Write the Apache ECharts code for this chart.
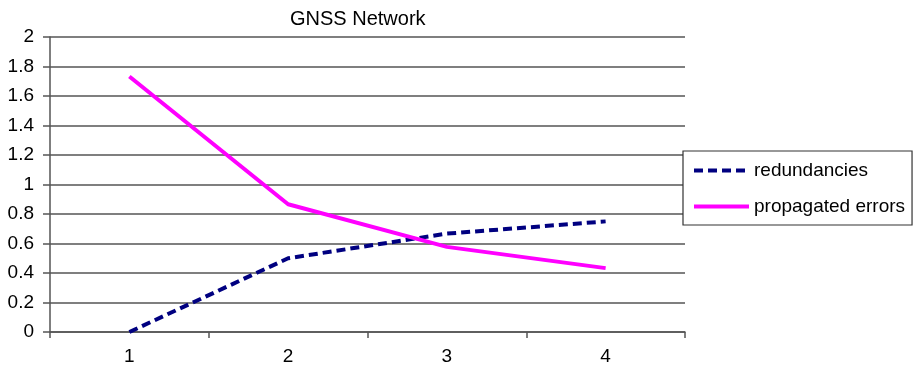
<!DOCTYPE html>
<html>
<head>
<meta charset="utf-8">
<script src="https://cdn.jsdelivr.net/npm/echarts@6/dist/echarts.min.js"></script>
<style>html,body{margin:0;padding:0;background:#fff}#c{width:914px;height:366px}</style>
</head>
<body>
<div id="c"></div>
<script>
var categories = ['1', '2', '3', '4'];
var redundancies = [0, 0.5, 0.667, 0.75];
var propagatedErrors = [1.732, 0.866, 0.577, 0.433];
var yTicks = [0, 0.2, 0.4, 0.6, 0.8, 1, 1.2, 1.4, 1.6, 1.8, 2];

var chart = echarts.init(document.getElementById('c'), null, {renderer: 'canvas'});
var font = 'Liberation Sans, Arial, sans-serif';
chart.setOption({
  animation: false,
  backgroundColor: '#fff',
  title: {
    text: 'GNSS Network',
    left: 285, top: 4,
    textStyle: {fontFamily: font, fontSize: 20, fontWeight: 'normal', color: '#000'}
  },
  legend: {
    orient: 'vertical',
    left: 683, top: 151,
    padding: [10, 7, 9, 9],
    itemGap: 17,
    itemWidth: 55, itemHeight: 14,
    borderColor: '#333', borderWidth: 1.2, borderRadius: 0,
    backgroundColor: '#fff',
    itemStyle: {opacity: 0},
    lineStyle: {width: 4},
    textStyle: {fontFamily: font, fontSize: 19, color: '#000'},
    data: ['redundancies', 'propagated errors']
  },
  grid: {left: 50, right: 229, top: 37, bottom: 34, containLabel: false},
  xAxis: {
    type: 'category',
    data: categories,
    boundaryGap: true,
    axisLine: {lineStyle: {color: '#555', width: 1.5}},
    axisTick: {show: true, inside: false, length: 6, lineStyle: {color: '#555', width: 1.5}},
    axisLabel: {fontFamily: font, fontSize: 19, color: '#000', margin: 15},
    splitLine: {show: false}
  },
  yAxis: {
    type: 'value',
    min: 0, max: 2, interval: 0.2,
    axisLine: {show: true, lineStyle: {color: '#555', width: 1.5}},
    axisTick: {show: true, inside: false, length: 7, lineStyle: {color: '#555', width: 1.5}},
    axisLabel: {
      fontFamily: font, fontSize: 19, color: '#000', margin: 16,
      formatter: function (v) {
        for (var i = 0; i < yTicks.length; i++) {
          if (Math.abs(yTicks[i] - v) < 1e-6) return String(yTicks[i]);
        }
        return '';
      }
    },
    splitLine: {show: true, lineStyle: {color: '#555', width: 1.5}}
  },
  series: [
    {
      name: 'redundancies', type: 'line', data: redundancies,
      symbol: 'none', color: '#000080',
      lineStyle: {color: '#000080', width: 4, type: [9, 5]}
    },
    {
      name: 'propagated errors', type: 'line', data: propagatedErrors,
      symbol: 'none', color: '#ff00ff',
      lineStyle: {color: '#ff00ff', width: 4, type: 'solid'}
    }
  ]
});
</script>
</body>
</html>
